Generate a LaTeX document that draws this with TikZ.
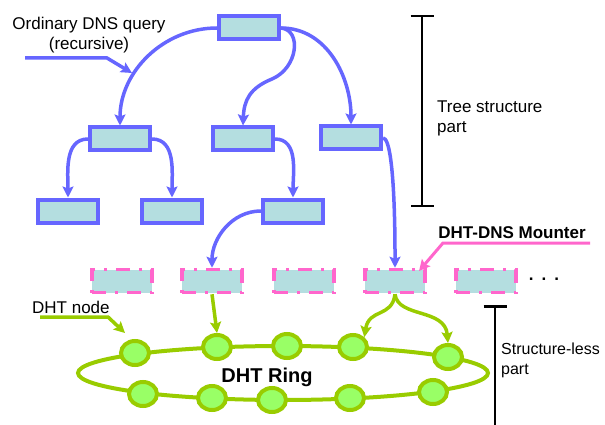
\documentclass[tikz,border=0pt]{standalone}
\usepackage{fontspec}
\setmainfont{Liberation Sans}
\usetikzlibrary{arrows.meta,shapes.geometric}
\definecolor{dnsblue}{RGB}{102,102,255}
\definecolor{boxcyan}{RGB}{180,222,224}
\definecolor{mpink}{RGB}{255,102,204}
\definecolor{ringgreen}{RGB}{153,204,0}
\definecolor{nodegreen}{RGB}{153,255,102}

\begin{document}
\begin{tikzpicture}[x=1pt,y=-1pt,
        dnsbox/.style={draw=dnsblue,fill=boxcyan,line width=4pt,minimum width=60pt,minimum height=23pt,inner sep=0pt},
        mounter/.style={draw=mpink,fill=boxcyan,line width=3.5pt,dash pattern=on 14pt off 9pt on 3pt off 9pt,minimum width=60pt,minimum height=23pt,inner sep=0pt},
        dhtnode/.style={ellipse,draw=ringgreen,fill=nodegreen,line width=4pt,minimum width=28pt,minimum height=24pt,inner sep=0pt},
        query/.style={draw=dnsblue,line width=3.5pt,-{Stealth[length=11pt,width=11pt,inset=2pt]}},
        hook/.style={draw=ringgreen,line width=3.5pt,-{Stealth[length=11pt,width=11pt,inset=2pt]}},
        mount/.style={draw=mpink,line width=3pt,-{Stealth[length=11pt,width=11pt,inset=2pt]}},
        part/.style={line width=2.5pt,{Bar[width=23pt]}-{Bar[width=23pt]}},
        lbl/.style={font=\fontsize{17}{20}\selectfont,inner sep=0pt}]
        \useasboundingbox (0,0) rectangle (605,425);

        \node[dnsbox] (root) at (249,28) {};
        \node[dnsbox] (a) at (120,139) {};
        \node[dnsbox] (b) at (243,139) {};
        \node[dnsbox] (c) at (351,138) {};
        \node[dnsbox] (a1) at (68,211) {};
        \node[dnsbox] (a2) at (172,211) {};
        \node[dnsbox] (b1) at (293,211) {};

        \node[mounter] (m1) at (122,281) {};
        \node[mounter] (m2) at (212,281) {};
        \node[mounter] (m3) at (304,281) {};
        \node[mounter] (m4) at (395,281) {};
        \node[mounter] (m5) at (486,281) {};
        \node[lbl,font=\fontsize{17}{20}\selectfont\bfseries] (dots) at (544,279) {.\hspace{8pt}.\hspace{8pt}.};

        \draw[query] (root.west) to[out=180,in=90] (a.north);
        \draw[query] (root.east) to[out=0,in=90] (c.north);
        \coordinate (bend) at (272,79);
        \draw[query] (root.east) .. controls (302,30) and (298,68) .. (bend) .. controls (250,88) and (244,100) .. (b.north);
        \draw[query] (a.west) to[out=180,in=90] (a1.north);
        \draw[query] (a.east) to[out=0,in=90] (a2.north);
        \draw[query] (b.east) to[out=0,in=90] (b1.north);
        \draw[query] (b1.west) to[out=180,in=90] (m2.north);
        \draw[query] (c.east) to[out=0,in=90,looseness=0.25] (m4.north);

        \draw[ringgreen,line width=4pt] (283,373) ellipse (205 and 27);
        \node[dhtnode] (t1) at (135,353) {};
        \node[dhtnode] (t2) at (217,347) {};
        \node[dhtnode] (t3) at (287,346) {};
        \node[dhtnode] (t4) at (353,347) {};
        \node[dhtnode] (t5) at (448,357) {};
        \node[dhtnode] (r1) at (143,394) {};
        \node[dhtnode] (r2) at (212,398) {};
        \node[dhtnode] (r3) at (272,400) {};
        \node[dhtnode] (r4) at (350,398) {};
        \node[dhtnode] (r5) at (433,392) {};
        \node[lbl,font=\fontsize{20}{24}\selectfont\bfseries] (ring) at (267,377) {DHT Ring};

        \draw[hook] (m2.south) -- (t2.north);
        \draw[hook] (m4.south) .. controls (392,318) and (369,308) .. (t4.north east);
        \draw[hook] (m4.south) .. controls (398,318) and (445,308) .. (t5.north);

        \node[lbl,align=center] (qtext) at (89,35) {Ordinary DNS query\\(recursive)};
        \coordinate (qa) at (25,58);
        \coordinate (qb) at (107,58);
        \coordinate (qc) at (132,73);
        \draw[query] (qa) -- (qb) -- (qc);

        \node[lbl,anchor=west] (ntext) at (32,307) {DHT node};
        \coordinate (na) at (40,317);
        \coordinate (nb) at (108,317);
        \coordinate (nc) at (125,333);
        \draw[hook] (na) -- (nb) -- (nc);

        \node[lbl,font=\fontsize{17}{20}\selectfont\bfseries] (mtext) at (512,233) {DHT-DNS Mounter};
        \coordinate (ma) at (590,243);
        \coordinate (mb) at (443,243);
        \coordinate (mc) at (419,271);
        \draw[mount] (ma) -- (mb) -- (mc);

        \coordinate (treetop) at (422,15);
        \coordinate (treebot) at (422,207);
        \draw[part] (treetop) -- (treebot);
        \node[lbl,anchor=west,align=left] (treetext) at (437,118) {Tree structure\\part};

        \coordinate (lesstop) at (495,305);
        \coordinate (lessbot) at (495,425);
        \draw[line width=2.5pt,{Bar[width=23pt]}-] (lesstop) -- (lessbot);
        \node[lbl,font=\fontsize{16}{20}\selectfont,anchor=west,align=left] (lesstext) at (501,360) {Structure-less\\part};
\end{tikzpicture}
\end{document}
